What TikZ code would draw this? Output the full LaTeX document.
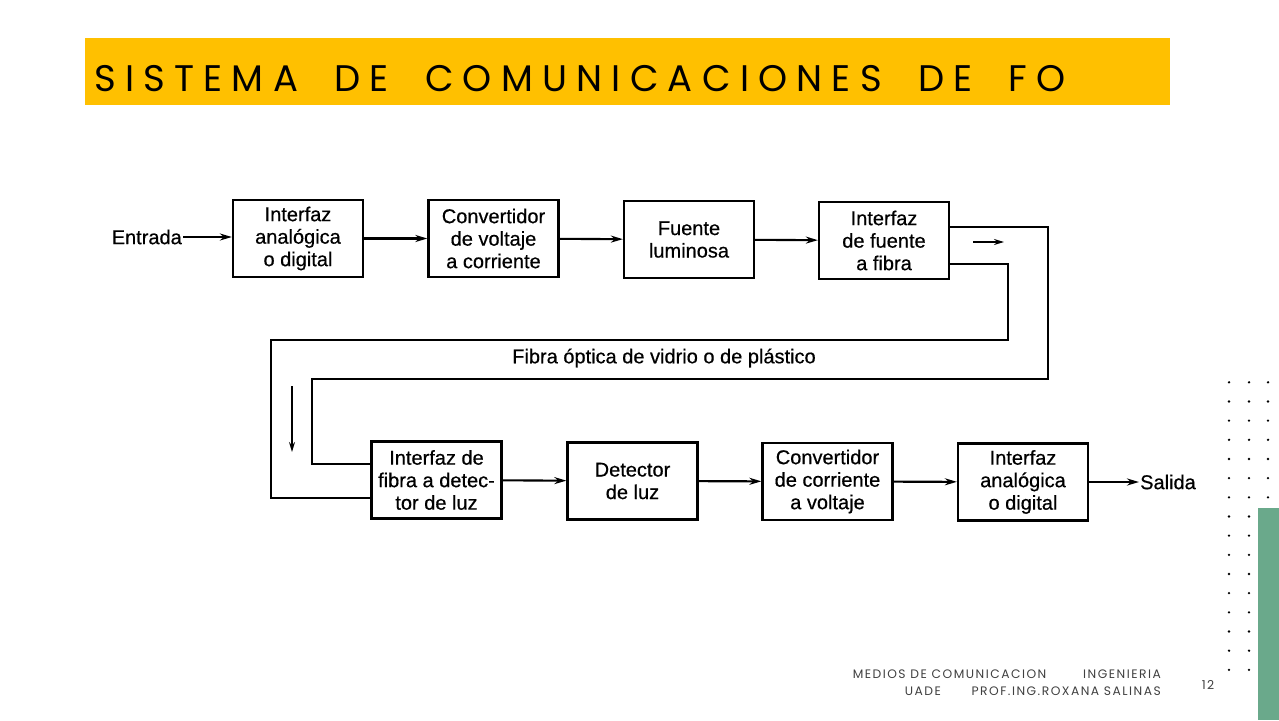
\documentclass[tikz,border=0pt]{standalone}
\usepackage{fontspec}
\usepackage{tikz}
\usetikzlibrary{arrows.meta}
\setmainfont{Liberation Sans}
\newfontfamily\diagfont[FakeBold=0.5]{Liberation Sans}
\newfontfamily\titlefont[LetterSpace=25,WordSpace=1.9]{Poppins}
\newfontfamily\footfont[LetterSpace=12]{Poppins}
\definecolor{barra}{HTML}{FFC000}
\definecolor{verde}{HTML}{6AA98B}

\begin{document}
\begin{tikzpicture}[x=1pt,y=-1pt,
    bloque/.style={draw, line width=2.3pt, minimum width=130pt, minimum height=77pt,
        inner sep=1pt, align=center, font=\diagfont\fontsize{20}{22.5}\selectfont},
    flecha/.style={line width=2.1pt, -{Stealth[length=12pt,width=7pt]}},
    fibra/.style={line width=2.3pt},
    etiq/.style={font=\diagfont\fontsize{20}{22}\selectfont},
    pie/.style={text=black!75, inner sep=0pt, font=\footfont\fontsize{12.3}{16.5}\selectfont}]
    \useasboundingbox (0,0) rectangle (1279,720);
    % title bar
    \fill[barra] (85,38) rectangle (1170,105);
    \node[anchor=west, inner sep=0pt] (titulo) at (94,79)
        {\titlefont\fontsize{37}{40}\selectfont SISTEMA DE COMUNICACIONES DE FO};
    % transmitter
    \node[bloque] (ia1) at (298,238.5) {Interfaz\\anal\'ogica\\o digital};
    \node[bloque] (cvc) at (493.5,238.5) {Convertidor\\de voltaje\\a corriente};
    \node[bloque] (fte) at (689,239.5) {Fuente\\luminosa};
    \node[bloque] (iff) at (884,240.5) {Interfaz\\de fuente\\a fibra};
    % receiver
    \node[bloque] (ifd) at (436.5,480) {Interfaz de\\fibra a detec-\\tor de luz};
    \node[bloque] (det) at (632.5,481) {Detector\\de luz};
    \node[bloque] (ccv) at (827.5,481.5) {Convertidor\\de corriente\\a voltaje};
    \node[bloque] (ia2) at (1023,482) {Interfaz\\anal\'ogica\\o digital};
    \node[etiq, anchor=east, inner sep=1pt] (ent) at (183,237) {Entrada};
    \node[etiq, anchor=west, inner sep=1pt] (sal) at (1139,482) {Salida};
    \node[etiq] (fib) at (664,358) {Fibra \'optica de vidrio o de pl\'astico};
    \draw[flecha] (ent) -- (ia1.west|-ent);
    \draw[flecha] (ia1) -- (cvc);
    \draw[flecha] (cvc) -- (fte);
    \draw[flecha] (fte) -- (iff);
    \draw[flecha] (ifd) -- (det);
    \draw[flecha] (det) -- (ccv);
    \draw[flecha] (ccv) -- (ia2);
    \draw[flecha] (ia2) -- (sal);
    % the fiber
    \draw[fibra] ([yshift=13.5]iff.east) -| (1048,379) -| (312,464) -- (ifd.west|-0,464);
    \draw[fibra] ([yshift=-23.5]iff.east) -| (1008,340) -| (271,498) -- (ifd.west|-0,498);
    \coordinate (fa) at (973,242);
    \coordinate (fb) at (1004,242);
    \coordinate (fc) at (292,386);
    \coordinate (fd) at (292,452);
    \draw[line width=1.5pt, -{Stealth[length=10pt,width=6pt]}] (fa) -- (fb);
    \draw[line width=1.5pt, -{Stealth[length=10pt,width=6pt]}] (fc) -- (fd);
    % footer and decoration
    \node[pie, anchor=north east, align=right] (autor) at (1161,670)
        {MEDIOS DE COMUNICACION\hspace{3em}INGENIERIA\\
         UADE\hspace{2.5em}PROF.ING.ROXANA SALINAS};
    \node[pie] (pag) at (1208,685) {12};
    \fill[verde] (1258,508) rectangle (1279,720);
    \foreach \r in {0,...,15} {
        \fill (1229,382.3+19.17*\r) circle (1.3);
        \fill (1249,382.3+19.17*\r) circle (1.3);
    }
    \foreach \r in {0,...,6}
        \fill (1268,382.3+19.17*\r) circle (1.3);
\end{tikzpicture}
\end{document}
